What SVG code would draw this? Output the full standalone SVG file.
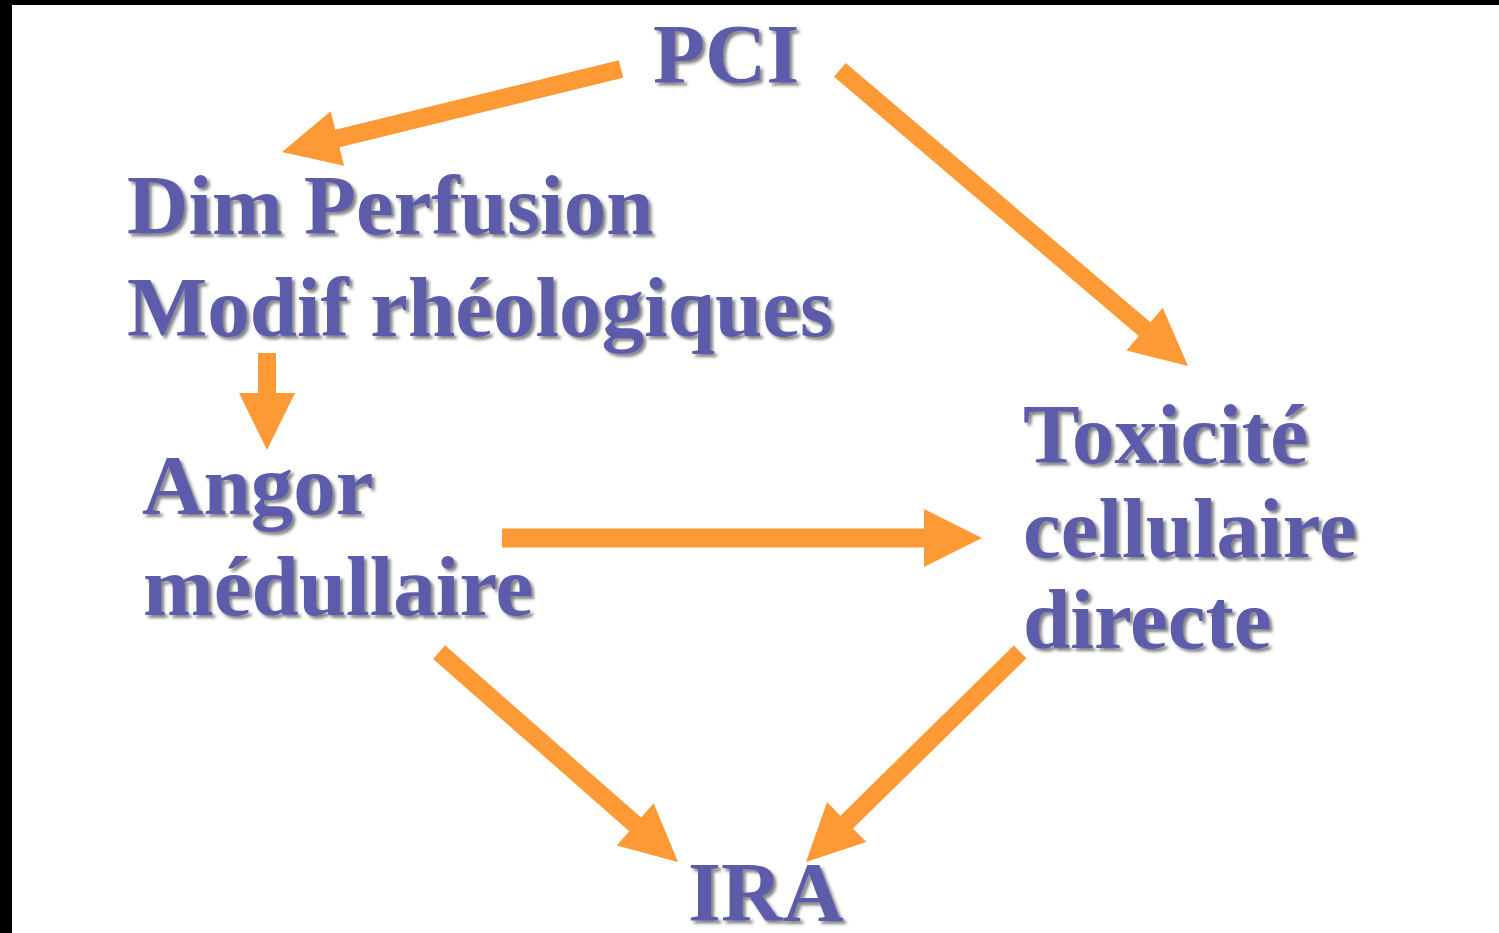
<svg xmlns="http://www.w3.org/2000/svg" width="1499" height="933" viewBox="0 0 1499 933">
<defs>
<style>
.t{font-family:"Liberation Serif","Times New Roman",serif;font-weight:bold;font-size:85px;fill:#5c5cab;filter:url(#sh);}
.a{fill:#fd9a35;}
</style>
<filter id="sh" x="-10%" y="-20%" width="130%" height="150%">
<feDropShadow dx="3" dy="3" stdDeviation="1.6" flood-color="#222" flood-opacity="0.55"/>
</filter>
</defs>
<rect x="0" y="0" width="1499" height="933" fill="#ffffff"/>
<rect x="0" y="0" width="1499" height="5" fill="#000"/>
<rect x="0" y="0" width="12" height="933" fill="#000"/>
<g id="connectors">
<polygon class="a" transform="translate(282,152) rotate(166.24)" points="0,0 -57,-28 -57,-9 -349,-9 -349,9 -57,9 -57,28"/>
<polygon class="a" transform="translate(1188,366) rotate(40.38)" points="0,0 -57,-28 -57,-9 -457,-9 -457,9 -57,9 -57,28"/>
<polygon class="a" transform="translate(267,450) rotate(90)" points="0,0 -57,-28 -57,-9 -97,-9 -97,9 -57,9 -57,28"/>
<polygon class="a" transform="translate(982,538) rotate(0)" points="0,0 -58,-29 -58,-9.5 -480,-9.5 -480,9.5 -58,9.5 -58,29"/>
<polygon class="a" transform="translate(678,862) rotate(41.3)" points="0,0 -57,-28 -57,-9 -318,-9 -318,9 -57,9 -57,28"/>
<polygon class="a" transform="translate(806,862) rotate(135.54)" points="0,0 -57,-28 -57,-9 -300,-9 -300,9 -57,9 -57,28"/>
</g>
<g id="pci"><text class="t" x="653" y="83">PCI</text></g>
<g id="dim-perfusion">
<text class="t" x="127" y="234">Dim Perfusion</text>
<text class="t" x="127" y="336">Modif rhéologiques</text>
</g>
<g id="angor">
<text class="t" x="142" y="514">Angor</text>
<text class="t" x="143" y="615">médullaire</text>
</g>
<g id="toxicite">
<text class="t" x="1023" y="463">Toxicité</text>
<text class="t" x="1023" y="557">cellulaire</text>
<text class="t" x="1023" y="648">directe</text>
</g>
<g id="ira"><text class="t" x="688" y="921">IRA</text></g>
</svg>
